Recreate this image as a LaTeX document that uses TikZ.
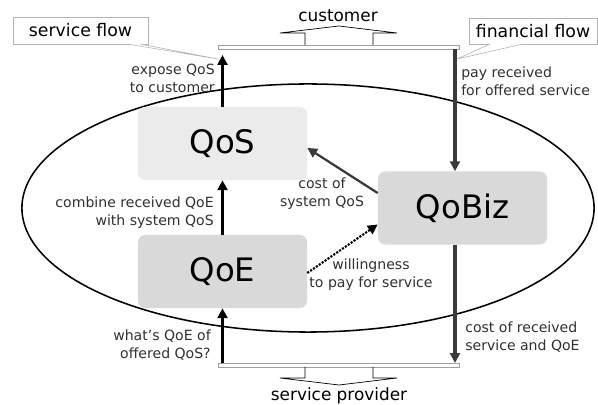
\documentclass[tikz,border=0pt]{standalone}
\usepackage{fontspec}
\setmainfont{DejaVu Sans}
\usetikzlibrary{arrows.meta}
\definecolor{qoslight}{HTML}{EBEBEB}
\definecolor{qoedark}{HTML}{D9D9D9}
\definecolor{labelgray}{HTML}{303030}
\definecolor{paygray}{HTML}{3A3A3A}
\begin{document}
\begin{tikzpicture}[x=0.025cm,y=-0.025cm,
  qbox/.style={rounded corners=5pt, minimum width=4.225cm, minimum height=1.825cm,
    inner sep=0pt, font=\fontsize{23}{26}\selectfont},
  lbl/.style={font=\fontsize{10}{12.8}\selectfont, text=labelgray, inner sep=0pt},
  endbar/.style={draw=gray!75, fill=white, line width=0.6pt, minimum width=6.025cm,
    minimum height=0.1cm, inner sep=0pt},
  flowbox/.style={draw=gray!60, line width=0.5pt, inner sep=0pt,
    font=\fontsize{12.3}{14}\selectfont},
  wedge/.style={draw=gray!60, line width=0.4pt, fill=white},
  flowarrow/.style={line width=2.1pt, -{Triangle[length=7pt,width=7pt]}},
  payarrow/.style={line width=2.3pt, draw=paygray, -{Triangle[length=7pt,width=7pt]}}]
\useasboundingbox (0,0) rectangle (598,405);

% ellipse of the system
\draw[line width=1.1pt] (308,208) ellipse [x radius=7.15cm, y radius=3.1cm];

% the three quality nodes
\node[qbox, fill=qoslight] (qos) at (222.5,143.5) {QoS};
\node[qbox, fill=qoedark] (qoe) at (222.5,271.5) {QoE};
\node[qbox, fill=qoedark] (qobiz) at (462.5,208) {QoBiz};

% customer and provider bars
\node[endbar] (custbar) at (338.5,47) {};
\node[endbar] (provbar) at (338.5,365) {};
\draw[line width=0.5pt] (305,45) -- (305,33) -- (280,33) -- (339,26) -- (397,33) -- (373,33) -- (373,45);
\draw[line width=0.5pt] (305,367) -- (305,378) -- (280,378) -- (339,385) -- (397,378) -- (373,378) -- (373,367);
\node[font=\fontsize{12}{14}\selectfont] (cust) at (338,16) {customer};
\node[font=\fontsize{12}{14}\selectfont] (prov) at (339,396) {service provider};

% flow labels with pointers
\node[flowbox, minimum width=3.375cm, minimum height=0.675cm] (sflow) at (80.5,30.5) {service flow};
\node[flowbox, minimum width=3.2cm, minimum height=0.65cm] (fflow) at (533,31) {financial flow};
\coordinate (sfpoint) at (218,59);
\coordinate (ffpoint) at (457,59);
\draw[wedge] (127,44) -- (sfpoint) -- (140,44);
\draw[wedge] (490,44) -- (ffpoint) -- (523,44);

% service flow arrows
\draw[flowarrow, shorten >=0.14cm] (qos.north) -- (qos.north |- custbar.south);
\draw[flowarrow] (qoe.north) -- (qos.south);
\draw[flowarrow] (qoe.south |- provbar.north) -- (qoe.south);

% financial flow arrows
\coordinate (paytop) at (455,49);
\coordinate (paybot) at (455,363);
\draw[payarrow] (paytop) -- (paytop |- qobiz.north);
\draw[payarrow] (paytop |- qobiz.south) -- (paybot);
\draw[payarrow, line width=1.6pt] (qobiz.170) -- (qos.-3);
\draw[line width=1.5pt, densely dotted, -{Triangle[length=7pt,width=7pt]}] (qoe.-1) -- (qobiz.191);

% labels
\node[lbl, anchor=east, align=right] (expose) at (215,78) {expose QoS\\to customer};
\node[lbl, anchor=west, align=left] (pay) at (461,81) {pay received\\for offered service};
\node[lbl, align=center] (costsys) at (322,194) {cost of\\system QoS};
\node[lbl, anchor=east, align=right] (combine) at (214,213) {combine received QoE\\with system QoS};
\node[lbl, align=center] (willing) at (371,275) {willingness\\to pay for service};
\node[lbl, anchor=east, align=right] (whats) at (211,345) {what's QoE of\\offered QoS?};
\node[lbl, anchor=west, align=left] (costrec) at (465,337) {cost of received\\service and QoE};
\end{tikzpicture}
\end{document}
